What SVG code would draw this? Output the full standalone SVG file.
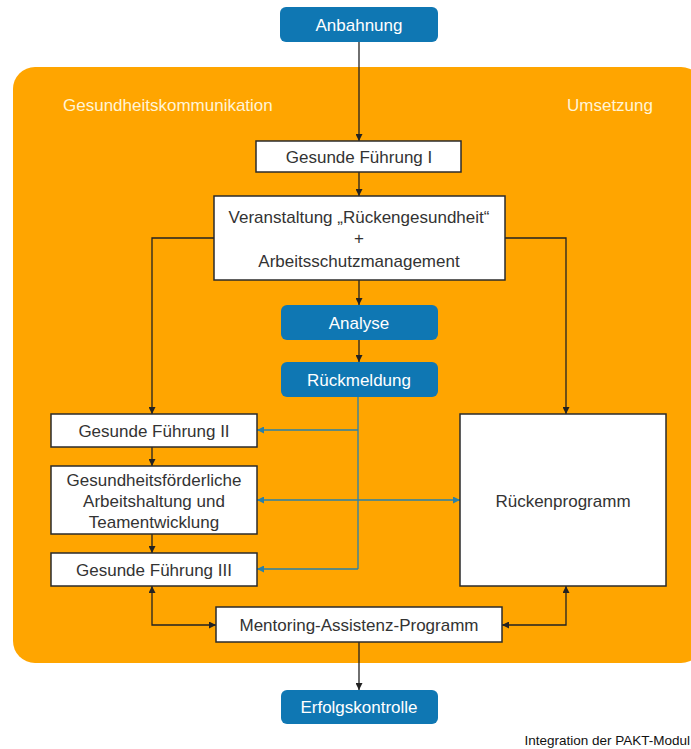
<svg xmlns="http://www.w3.org/2000/svg" width="691" height="749" viewBox="0 0 691 749">
<style>
.wbox{fill:#ffffff;stroke:#2b2b2b;stroke-width:1.5}
.bbox{fill:#0f77b3}
.t{font-family:"Liberation Sans",Arial,sans-serif;font-size:17px;fill:#333333;text-anchor:middle}
.tw{font-family:"Liberation Sans",Arial,sans-serif;font-size:17px;fill:#ffffff;text-anchor:middle}
.lbl{font-family:"Liberation Sans",Arial,sans-serif;font-size:17px;fill:#fff4d6}
.k{fill:none;stroke:#222222;stroke-width:1.3}
.b{fill:none;stroke:#2a80a8;stroke-width:1.3}
</style>
<defs>
<marker id="ak" viewBox="0 0 10 10" refX="10" refY="5" markerWidth="7" markerHeight="7" orient="auto-start-reverse" markerUnits="userSpaceOnUse"><path d="M0,0 L10,5 L0,10 z" fill="#222222"/></marker>
<marker id="ab" viewBox="0 0 10 10" refX="10" refY="5" markerWidth="7" markerHeight="7" orient="auto-start-reverse" markerUnits="userSpaceOnUse"><path d="M0,0 L10,5 L0,10 z" fill="#2a80a8"/></marker>
</defs>
<rect width="691" height="749" fill="#ffffff"/>
<g id="container">
<rect x="13" y="67" width="690" height="596" rx="22" fill="#ffa500"/>
<text class="lbl" x="63" y="111">Gesundheitskommunikation</text>
<text class="lbl" x="567" y="111">Umsetzung</text>
</g>
<g id="connectors">
<path class="k" d="M359,42 V141" marker-end="url(#ak)"/>
<path class="k" d="M359,172 V196" marker-end="url(#ak)"/>
<path class="k" d="M214,238 H152 V414" marker-end="url(#ak)"/>
<path class="k" d="M505,238 H566 V414" marker-end="url(#ak)"/>
<path class="k" d="M359,280 V305" marker-end="url(#ak)"/>
<path class="k" d="M359,340 V362" marker-end="url(#ak)"/>
<path class="k" d="M152,447 V466" marker-end="url(#ak)"/>
<path class="k" d="M152,534 V553" marker-end="url(#ak)"/>
<path class="k" d="M152,586 V625 H216" marker-start="url(#ak)" marker-end="url(#ak)"/>
<path class="k" d="M566,586 V625 H502" marker-start="url(#ak)" marker-end="url(#ak)"/>
<path class="k" d="M359,642 V690" marker-end="url(#ak)"/>
<path class="b" d="M358,397 V569"/>
<path class="b" d="M358,430 H257" marker-end="url(#ab)"/>
<path class="b" d="M257,500 H460" marker-start="url(#ab)" marker-end="url(#ab)"/>
<path class="b" d="M358,569 H257" marker-end="url(#ab)"/>
</g>
<g id="anbahnung">
<rect class="bbox" x="280" y="7" width="158" height="35" rx="6"/>
<text class="tw" x="359" y="31">Anbahnung</text>
</g>
<g id="gf1">
<rect class="wbox" x="256" y="141" width="205" height="31"/>
<text class="t" x="359" y="163">Gesunde Führung I</text>
</g>
<g id="veranstaltung">
<rect class="wbox" x="214" y="196" width="291" height="84"/>
<text class="t" x="359" y="223">Veranstaltung „Rückengesundheit“</text>
<text class="t" x="359" y="244">+</text>
<text class="t" x="359" y="267">Arbeitsschutzmanagement</text>
</g>
<g id="analyse">
<rect class="bbox" x="281" y="305" width="157" height="35" rx="6"/>
<text class="tw" x="359" y="329">Analyse</text>
</g>
<g id="rueckmeldung">
<rect class="bbox" x="281" y="362" width="157" height="35" rx="6"/>
<text class="tw" x="359" y="386">Rückmeldung</text>
</g>
<g id="gf2">
<rect class="wbox" x="51" y="414" width="206" height="33"/>
<text class="t" x="154" y="437">Gesunde Führung II</text>
</g>
<g id="gesundheitsfoerderlich">
<rect class="wbox" x="51" y="466" width="206" height="68"/>
<text class="t" x="154" y="486">Gesundheitsförderliche</text>
<text class="t" x="154" y="507">Arbeitshaltung und</text>
<text class="t" x="154" y="528">Teamentwicklung</text>
</g>
<g id="gf3">
<rect class="wbox" x="51" y="553" width="206" height="33"/>
<text class="t" x="154" y="576">Gesunde Führung III</text>
</g>
<g id="rueckenprogramm">
<rect class="wbox" x="460" y="414" width="206" height="172"/>
<text class="t" x="563" y="507">Rückenprogramm</text>
</g>
<g id="mentoring">
<rect class="wbox" x="216" y="607" width="286" height="35"/>
<text class="t" x="359" y="631">Mentoring-Assistenz-Programm</text>
</g>
<g id="erfolgskontrolle">
<rect class="bbox" x="281" y="690" width="157" height="34" rx="6"/>
<text class="tw" x="359" y="713">Erfolgskontrolle</text>
</g>
<text x="690" y="745" text-anchor="end" style="font-family:'Liberation Sans Narrow','Liberation Sans',Arial,sans-serif;font-size:13.5px;fill:#111111">Integration der PAKT-Modul</text>
</svg>
